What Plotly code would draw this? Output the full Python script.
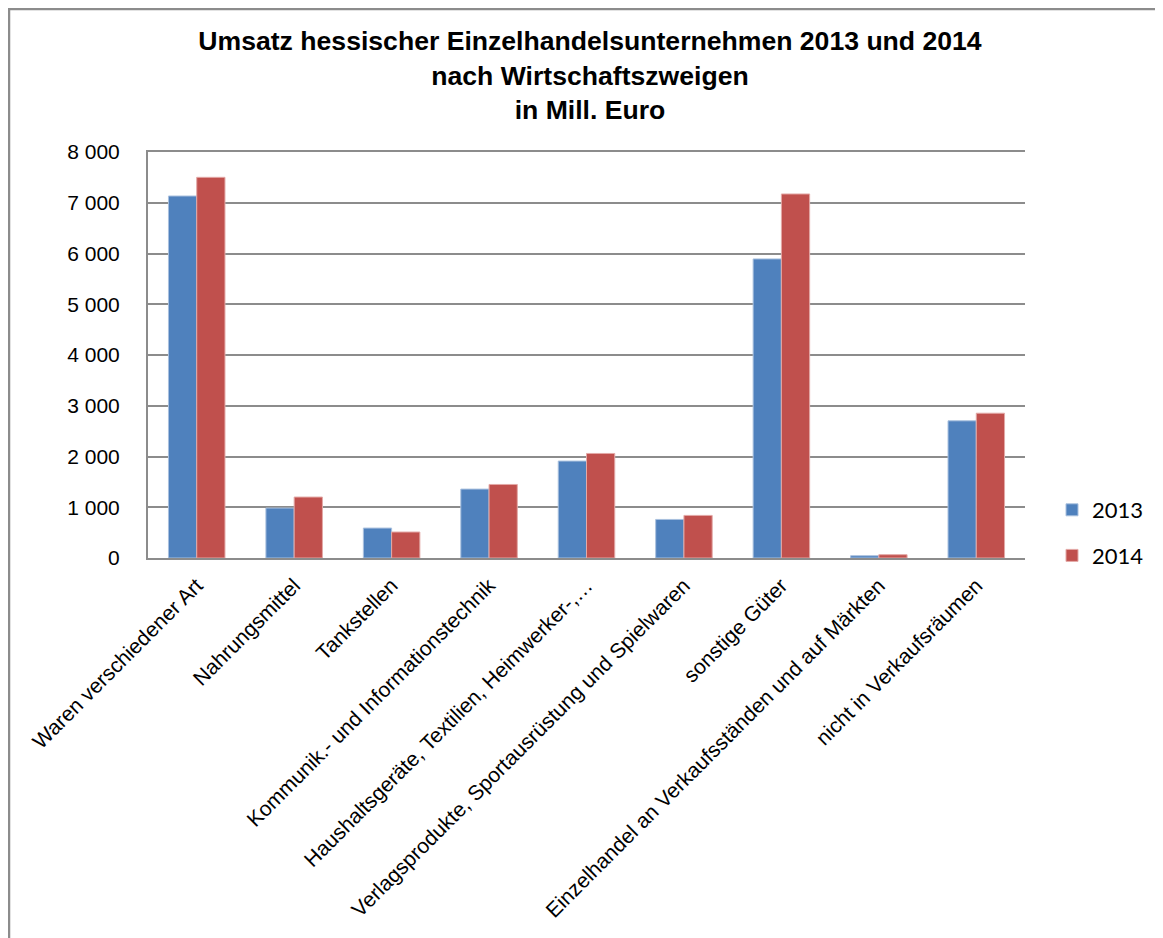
import plotly.graph_objects as go

categories = [
    "Waren verschiedener Art",
    "Nahrungsmittel",
    "Tankstellen",
    "Kommunik.- und Informationstechnik",
    "Haushaltsgeräte, Textilien, Heimwerker-,…",
    "Verlagsprodukte, Sportausrüstung und Spielwaren",
    "sonstige Güter",
    "Einzelhandel an Verkaufsständen und auf Märkten",
    "nicht in Verkaufsräumen",
]
values_2013 = [7133, 984, 590, 1358, 1910, 760, 5893, 45, 2703]
values_2014 = [7501, 1201, 512, 1449, 2060, 839, 7173, 65, 2853]
y_ticks = [0, 1000, 2000, 3000, 4000, 5000, 6000, 7000, 8000]
y_tick_labels = ["0", "1 000", "2 000", "3 000", "4 000", "5 000", "6 000", "7 000", "8 000"]

# page body has an 8px margin; figure coordinates = page coordinates - 8
OFF = 8
W, H = 1163 - OFF, 938 - OFF
L, R, T, B = 148 - OFF, 1025 - OFF, 152 - OFF, 558 - OFF

fig = go.Figure()
fig.add_trace(go.Bar(x=categories, y=values_2013, name="2013", legendgroup="a",
                     marker=dict(color="#4F81BD", line=dict(color="#A9C0DE", width=1))))
fig.add_trace(go.Bar(x=categories, y=values_2014, name="2014", legendgroup="b",
                     marker=dict(color="#C0504D", line=dict(color="#E3A9A7", width=1))))

pw = R - L
ph = B - T
def px_x(x):
    return (x - OFF - L) / pw
def px_y(y):
    return (B - (y - OFF)) / ph

fig.update_layout(
    width=W, height=H,
    margin=dict(l=L, r=W - R, t=T, b=H - B, autoexpand=False),
    paper_bgcolor="white", plot_bgcolor="white",
    barmode="group", bargap=0.42, bargroupgap=0,
    font=dict(family="Liberation Sans, Arial", color="#000000"),
    title=dict(
        text="Umsatz hessischer Einzelhandelsunternehmen 2013 und 2014<br>nach Wirtschaftszweigen<br>in Mill. Euro",
        x=(590 - OFF) / W, xanchor="center",
        y=1 - 42 / H, yanchor="top", yref="container",
        font=dict(family="Liberation Sans, Arial", size=26.6, color="#000000", weight="bold"),
    ),
    xaxis=dict(
        tickangle=-45, tickfont=dict(size=21, family="Liberation Sans, Arial"),
        showline=True, linecolor="#8C8C8C", linewidth=2, mirror=True,
        showgrid=False, ticks="", fixedrange=True, ticklabelstandoff=5,
    ),
    yaxis=dict(
        range=[0, 8000], tickvals=y_ticks, ticktext=y_tick_labels,
        tickfont=dict(size=21, family="Liberation Sans, Arial"),
        showgrid=True, gridcolor="#8C8C8C", gridwidth=2,
        showline=True, linecolor="#8C8C8C", linewidth=2,
        zeroline=False, ticks="", ticklabelstandoff=22,
    ),
    legend=dict(
        x=px_x(1052), xanchor="left", y=px_y(533), yanchor="middle",
        font=dict(size=22, family="Lato, Open Sans"),
        tracegroupgap=14, bgcolor="rgba(0,0,0,0)",
    ),
    showlegend=True,
)

fig.add_shape(type="rect", xref="paper", yref="paper",
              x0=(1 - L) / pw, x1=(W + 20 - L) / pw,
              y0=(B - (H + 20)) / ph, y1=(B - 1) / ph,
              line=dict(color="#8C8C8C", width=2.5), fillcolor="rgba(0,0,0,0)", layer="below")

fig.write_html("out.html")
